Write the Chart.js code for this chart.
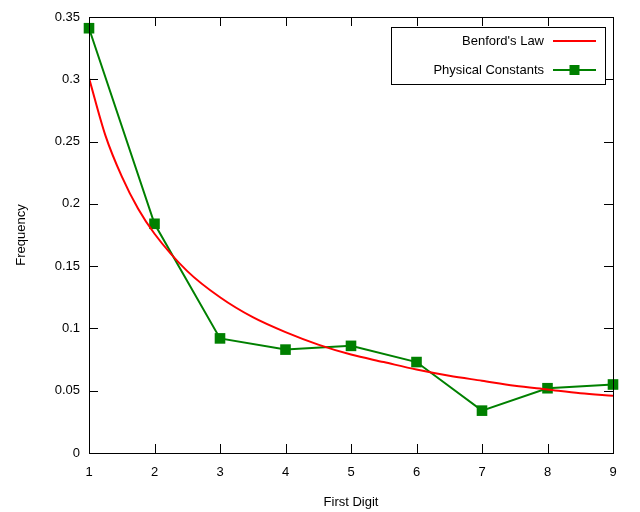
<!DOCTYPE html>
<html>
<head>
<meta charset="utf-8">
<script src="https://cdn.jsdelivr.net/npm/chart.js@4"></script>
<style>
  html, body { margin: 0; padding: 0; background: #fff; }
  #wrap { width: 640px; height: 512px; }
</style>
</head>
<body>
<div id="wrap"><canvas id="chart" width="640" height="512"></canvas></div>
<script>
// valores
const digits = [1, 2, 3, 4, 5, 6, 7, 8, 9];
const constantsFreq = [0.341, 0.184, 0.092, 0.083, 0.086, 0.073, 0.034, 0.052, 0.055];

// curva de Benford, leida a pasos de 0.25 / 0.5
const benfordX = [1, 1.25, 1.5, 1.75, 2, 2.5, 3, 3.5, 4, 4.5, 5, 5.5, 6, 6.5, 7, 7.5, 8, 8.5, 9];
const benfordY = [0.301, 0.255, 0.222, 0.196, 0.176, 0.146, 0.125, 0.109, 0.097, 0.087, 0.079, 0.073, 0.067, 0.062, 0.058, 0.054, 0.051, 0.048, 0.046];

const yTicks = [0, 0.05, 0.1, 0.15, 0.2, 0.25, 0.3, 0.35];

const seriesNames = ["Benford's Law", 'Physical Constants'];
const RED = '#ff0000';
const GREEN = '#008000';
const FONT = 'Liberation Sans, Arial, sans-serif';

// ticks hacia adentro en los cuatro lados + marco + leyenda
const frameTicks = {
  id: 'frameTicks',
  afterDatasetsDraw(chart) {
    const ctx = chart.ctx;
    const a = chart.chartArea;
    const xs = chart.scales.x, ys = chart.scales.y;
    const len = 9;
    ctx.save();
    ctx.strokeStyle = '#000';
    ctx.lineWidth = 1;
    ctx.beginPath();
    digits.forEach(d => {
      const px = Math.round(xs.getPixelForValue(d)) + 0.5;
      ctx.moveTo(px, a.bottom); ctx.lineTo(px, a.bottom - len);
      ctx.moveTo(px, a.top); ctx.lineTo(px, a.top + len);
    });
    yTicks.forEach(v => {
      const py = Math.round(ys.getPixelForValue(v)) + 0.5;
      ctx.moveTo(a.left, py); ctx.lineTo(a.left + len, py);
      ctx.moveTo(a.right, py); ctx.lineTo(a.right - len, py);
    });
    ctx.stroke();
    ctx.strokeRect(Math.round(a.left) + 0.5, Math.round(a.top) + 0.5,
                   Math.round(a.right - a.left), Math.round(a.bottom - a.top));

    // leyenda
    const bx = a.right - 222, by = a.top + 10, bw = 214, bh = 57;
    ctx.fillStyle = '#fff';
    ctx.fillRect(bx, by, bw, bh);
    ctx.strokeRect(bx + 0.5, by + 0.5, bw, bh);
    ctx.font = '13px ' + FONT;
    ctx.textAlign = 'right';
    ctx.textBaseline = 'middle';
    const colors = [RED, GREEN];
    seriesNames.forEach((name, i) => {
      const cy = by + 14 + i * 29;
      ctx.fillStyle = '#000';
      ctx.fillText(name, bx + 153, cy);
      ctx.strokeStyle = colors[i];
      ctx.lineWidth = 2;
      ctx.beginPath();
      ctx.moveTo(bx + 162, cy); ctx.lineTo(bx + 205, cy);
      ctx.stroke();
      if (i === 1) {
        ctx.fillStyle = GREEN;
        ctx.fillRect(bx + 183.5 - 5, cy - 5, 10, 10);
      }
    });
    ctx.restore();
  }
};

new Chart(document.getElementById('chart'), {
  type: 'line',
  data: {
    datasets: [
      {
        label: seriesNames[0],
        data: benfordX.map((x, i) => ({ x: x, y: benfordY[i] })),
        borderColor: RED,
        borderWidth: 2,
        pointRadius: 0,
        cubicInterpolationMode: 'monotone',
        fill: false
      },
      {
        label: seriesNames[1],
        data: digits.map((d, i) => ({ x: d, y: constantsFreq[i] })),
        borderColor: GREEN,
        backgroundColor: GREEN,
        borderWidth: 2,
        pointStyle: 'rect',
        pointRadius: 7.5,
        pointHoverRadius: 7.5,
        pointBorderWidth: 0,
        tension: 0,
        clip: false,
        fill: false
      }
    ]
  },
  options: {
    responsive: false,
    animation: false,
    devicePixelRatio: 1,
    layout: { padding: { left: 0, top: 17, right: 27, bottom: 0 } },
    plugins: {
      legend: { display: false },
      tooltip: { enabled: false }
    },
    scales: {
      x: {
        type: 'linear',
        min: 1,
        max: 9,
        afterFit(scale) { scale.height = 59; },
        afterBuildTicks(scale) { scale.ticks = digits.map(v => ({ value: v })); },
        grid: { display: false, drawTicks: false },
        border: { display: false },
        ticks: { padding: 12, color: '#000', font: { family: FONT, size: 13 } },
        title: {
          display: true,
          text: 'First Digit',
          color: '#000',
          font: { family: FONT, size: 13 },
          padding: { top: 2, bottom: 2 }
        }
      },
      y: {
        type: 'linear',
        min: 0,
        max: 0.35,
        afterFit(scale) { scale.width = 89; },
        afterBuildTicks(scale) { scale.ticks = yTicks.map(v => ({ value: v })); },
        grid: { display: false, drawTicks: false },
        border: { display: false },
        ticks: {
          padding: 9,
          color: '#000',
          font: { family: FONT, size: 13 },
          callback: v => String(+v.toFixed(2))
        },
        title: {
          display: true,
          text: 'Frequency',
          color: '#000',
          font: { family: FONT, size: 13 },
          padding: { top: 14, bottom: 14 }
        }
      }
    }
  },
  plugins: [frameTicks]
});
</script>
</body>
</html>
